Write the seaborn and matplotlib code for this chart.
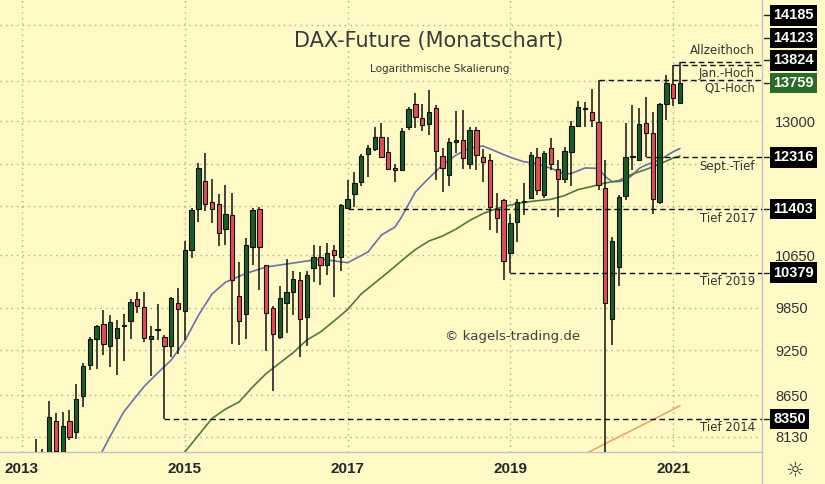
import numpy as np
import pandas as pd
import matplotlib
matplotlib.use("Agg")
import matplotlib.pyplot as plt
from matplotlib.lines import Line2D
from matplotlib.ticker import FixedLocator, NullLocator
import seaborn as sns

# ---------------- data (monthly DAX-Future candles, Mar 2013 .. Feb 2021) ----------------
first_month = "2013-03"
opens = [7740, 7790, 7910, 8324, 7940, 8330, 8190, 8640, 9044, 9410,
         9610, 9300, 9420, 9585, 9660, 9980, 9865, 9400, 9535, 9435, 9310, 9925,
         9800, 10726, 11412, 11900, 11530, 11490, 11075, 11300, 10025, 9760, 10775, 11412,
         10490, 9850, 9435, 9920, 10080, 10265, 9720, 10445, 10618, 10490, 10732, 10620,
         11425, 11660, 11880, 12375, 12475, 12690, 12410, 12125, 12090, 12880, 13340, 13065,
         12935, 13250, 12350, 11998, 12600, 12640, 12190, 12827, 12330, 12268, 11415, 11560,
         10685, 11194, 11520, 11600, 12315, 11640, 12480, 12100, 11920, 12420, 12905, 13240,
         13180, 12975, 11760, 9685, 10460, 11630, 12330, 12270, 12955, 12775, 11530, 13340,
         13740, 13360]
highs = [8105, 7985, 8575, 8420, 8440, 8465, 8790, 9080, 9435, 9600,
         9818, 9745, 9672, 9760, 9985, 10080, 10080, 9590, 9900, 9460, 10010, 10150,
         10870, 11420, 12220, 12400, 11930, 11660, 11820, 11690, 10540, 10930, 11420, 11445,
         10500, 9870, 10170, 10590, 10400, 10380, 10410, 10820, 10800, 10840, 10812, 11490,
         11910, 12060, 12375, 12545, 12880, 12970, 12690, 12190, 12870, 13265, 13550, 13340,
         13612, 13310, 12480, 12670, 13200, 13215, 12880, 12880, 12465, 12375, 11690, 11575,
         11330, 11575, 11860, 12420, 12480, 12440, 12670, 12268, 12500, 13005, 13395, 13380,
         13640, 13824, 12260, 10950, 11650, 12955, 13313, 13245, 13470, 13180, 13360, 13920,
         14123, 14185]
lows = [7600, 7450, 7880, 7650, 7900, 8090, 8105, 8495, 8980, 8990,
        9180, 9020, 8920, 9105, 9410, 9770, 9365, 8905, 9390, 8350, 9150, 9200,
        9390, 10610, 11194, 11375, 11180, 10800, 10812, 9330, 9320, 9400, 10500, 10114,
        9240, 8700, 9400, 9485, 9745, 9160, 9300, 10240, 10188, 10342, 10015, 10410,
        11403, 11445, 11800, 11970, 12440, 12315, 12080, 11870, 12080, 12830, 12870, 12810,
        12730, 11910, 11705, 11800, 12400, 12100, 12100, 12095, 11870, 11056, 11010, 10265,
        10379, 10865, 11300, 11580, 11646, 11600, 12090, 11265, 11860, 11810, 12880, 12890,
        12890, 11734, 7900, 9320, 10170, 11560, 12088, 12255, 12316, 11320, 11500, 13020,
        13300, 13330]
closes = [7790, 7910, 8375, 7965, 8260, 8135, 8600, 9040, 9410, 9580,
          9330, 9650, 9560, 9595, 9940, 9875, 9420, 9450, 9545, 9310, 9990, 9830,
          10726, 11390, 12127, 11490, 11412, 11010, 11315, 10265, 9660, 10820, 11395, 10775,
          9770, 9470, 9995, 10090, 10276, 9680, 10342, 10618, 10490, 10685, 10650, 11475,
          11575, 11860, 12340, 12480, 12690, 12325, 12110, 12080, 12805, 13230, 13070, 12917,
          13180, 12440, 12130, 12605, 12630, 12305, 12827, 12360, 12240, 11445, 11250, 10565,
          11168, 11530, 11540, 12360, 11734, 12390, 12196, 11920, 12430, 12905, 13265, 13255,
          13020, 11825, 9915, 10876, 11620, 12325, 12345, 12935, 12775, 11575, 13340, 13760,
          13455, 13759]

# moving averages (x = months since Jan 2013)
blue_ma_month = [11, 13, 15, 18, 20, 22, 24, 26, 28, 30, 33, 36, 40, 44, 48, 51, 53, 55, 56, 58,
                 60, 62, 64, 66, 68, 70, 72, 74, 76, 78, 80, 81, 83, 85, 86, 87, 88, 89, 90, 91,
                 92, 94, 96, 97]
blue_ma = [7832, 8138, 8438, 8762, 8940, 9114, 9376, 9737, 10053, 10230, 10365, 10465, 10527,
           10590, 10532, 10700, 10975, 11106, 11280, 11699, 11944, 12178, 12360, 12489, 12526,
           12420, 12317, 12237, 12204, 12117, 12016, 12025, 12124, 12117, 11968, 11880, 11880,
           11910, 11998, 12117, 12178, 12268, 12420, 12480]
green_ma_month = [22, 24, 26, 28, 30, 32, 34, 36, 38, 40, 42, 44, 46, 48, 50, 52, 54, 56, 58, 60,
                  62, 64, 66, 68, 70, 72, 74, 76, 78, 80, 82, 84, 86, 88, 90, 92, 94, 96, 97]
green_ma = [7756, 7950, 8148, 8355, 8473, 8563, 8756, 8933, 9074, 9216, 9389, 9502, 9658, 9824,
            10053, 10219, 10387, 10566, 10741, 10877, 10958, 11072, 11214, 11331, 11415, 11475,
            11521, 11548, 11572, 11638, 11742, 11795, 11856, 11900, 12016, 12097, 12195, 12305,
            12341]
orange_ma_month = [82, 86, 91, 97]
orange_ma = [7885, 8050, 8255, 8515]

# marked levels
level_values = [14185, 14123, 13824, 12316, 11403, 10379, 8350]
level_start_month = [97, 96, 85, 92, 48, 72, 21]
level_names = ["Allzeithoch", "Jan.-Hoch", "Q1-Hoch", "Sept.-Tief", "Tief 2017", "Tief 2019", "Tief 2014"]
last_price = 13759

price_ticks = [8130, 8650, 9250, 9850, 10650, 11450, 12200, 13000, 13800, 15000]
price_tick_labels = ["8130", "8650", "9250", "9850", "10650", "", "", "13000", "", ""]
year_tick_month = [0, 24, 48, 72, 96]
year_labels = ["2013", "2015", "2017", "2019", "2021"]

title = "DAX-Future (Monatschart)"
subtitle = "Logarithmische Skalierung"
watermark = "© kagels-trading.de"

# ---------------- styling ----------------
BG = "#FFF9C6"
GREEN = "#1F5C22"
RED = "#DC5252"
BOX_GREEN = "#2A6B2C"
W, H = 825, 484

sns.set_theme(style="white", rc={"axes.facecolor": BG, "figure.facecolor": BG})
plt.rcParams["font.family"] = ["DejaVu Sans"]

fig = plt.figure(figsize=(W / 100, H / 100), dpi=100, facecolor=BG)
ax = fig.add_axes([0, 1 - 452 / H, 762 / W, 452 / H])
ax.set_facecolor(BG)
ax.set_yscale("log")
ax.set_xlim(-3.24, 109.1)
ax.set_ylim(7950, 15561)

start_idx = (int(first_month[:4]) - 2013) * 12 + int(first_month[5:]) - 1
x = start_idx + np.arange(len(opens))
o = np.array(opens, float); c = np.array(closes, float)
hi = np.array(highs, float); lo = np.array(lows, float)
up = c >= o

# grid
ax.yaxis.set_major_locator(FixedLocator(price_ticks))
ax.yaxis.set_minor_locator(NullLocator())
ax.set_yticklabels(price_tick_labels)
ax.set_xticks(year_tick_month)
ax.set_xticklabels(year_labels)
ax.grid(True, which="major", color="#B3AC86", linestyle=(0, (1, 3)), linewidth=1)
ax.set_axisbelow(True)

ax.yaxis.tick_right()
ax.tick_params(axis="y", length=0, pad=9.4, labelsize=10.5, labelcolor="#333333",
               labelfontfamily="Liberation Sans")
ax.tick_params(axis="x", length=0, pad=7.2, labelsize=11, labelcolor="#262626",
               labelfontfamily="Liberation Sans")
for lbl in ax.get_xticklabels():
    lbl.set_fontweight("bold")

for s in ["top", "left"]:
    ax.spines[s].set_visible(False)
for s in ["right", "bottom"]:
    ax.spines[s].set_color("#C4C4C4")
    ax.spines[s].set_linewidth(1)

# moving averages with seaborn
sns.lineplot(x=blue_ma_month, y=blue_ma, ax=ax, color="#6A72AA", linewidth=1.2, zorder=2)
sns.lineplot(x=green_ma_month, y=green_ma, ax=ax, color="#4E7A3C", linewidth=1.2, zorder=2)
sns.lineplot(x=orange_ma_month, y=orange_ma, ax=ax, color="#E8A866", linewidth=1.2, zorder=2)

# candles
ax.vlines(x, lo, hi, color="#111111", linewidth=1.1, zorder=3)
ax.bar(x, np.abs(c - o), bottom=np.minimum(o, c), width=0.64,
       color=np.where(up, GREEN, RED), edgecolor="#111111", linewidth=0.8, zorder=4)

# level lines
xr = ax.get_xlim()[1]
ax.hlines(level_values, level_start_month, xr, colors="#111111",
          linestyles=(0, (4, 2.6)), linewidth=1, zorder=5)

label_dy_px = [12, -8, -8.5, -9, -9.5, -9, -8.5]
for name, v, dy in zip(level_names, level_values, label_dy_px):
    ax.annotate(name, xy=(1, v), xycoords=("axes fraction", "data"),
                xytext=(-7 * 0.72, dy * 0.72), textcoords="offset points",
                ha="right", va="center", fontsize=8.5, color="#333333", zorder=6)

# price boxes on the right axis (stacked upward when they collide)
BOX_H = 22.5
box_vals = sorted(level_values + [last_price])
placed = {}
prev = -1e9
for v in box_vals:
    yd = ax.transData.transform((0, v))[1]
    yp = max(yd, prev + BOX_H)
    placed[v] = (yd, yp)
    prev = yp
for v in box_vals:
    yd, yp = placed[v]
    fc = BOX_GREEN if v == last_price else "black"
    ax.annotate(str(v), xy=(1, v), xycoords=("axes fraction", "data"),
                xytext=(11 * 0.72, (yp - yd) * 0.72), textcoords="offset points",
                ha="left", va="center", fontsize=10.5, fontweight="bold",
                family="Liberation Sans", color="white",
                bbox=dict(boxstyle="square,pad=0.22", fc=fc, ec="none"),
                annotation_clip=False, zorder=10)
    fig.add_artist(Line2D([764 / W, 769 / W], [yp / H, yp / H], color="#222222", linewidth=1))

# separator below right axis
fig.add_artist(Line2D([762 / W, 762 / W], [0, 32 / H], color="#C4C4C4", linewidth=1))

# texts
fig.text(429 / W, 1 - 46.7 / H, title, ha="center", va="baseline", fontsize=15, color="#3A3A3A")
fig.text(440 / W, 1 - 71.5 / H, subtitle, ha="center", va="baseline", fontsize=7.5, color="#333333")
fig.text(445 / W, 1 - 340 / H, watermark, ha="left", va="baseline", fontsize=9.6, color="#404040")
fig.text(795 / W, 1 - 470 / H, "☼", ha="center", va="center", fontsize=15, color="#333333")

fig.savefig("out.png", dpi=100, facecolor=BG)
